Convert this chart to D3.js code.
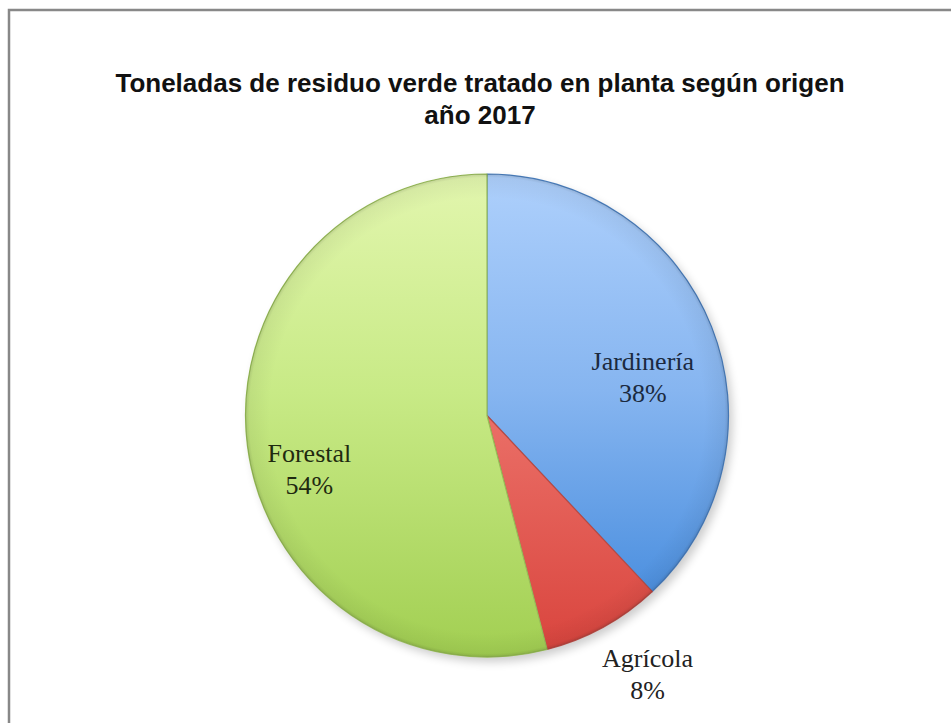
<!DOCTYPE html>
<html><head><meta charset="utf-8">
<script src="https://cdn.jsdelivr.net/npm/d3@7"></script>
<style>html,body{margin:0;padding:0;background:#fff;}svg{display:block;}</style>
</head><body>
<script>
const titleLines = ["Toneladas de residuo verde tratado en planta según origen", "año 2017"];
const categories = ["Jardinería", "Agrícola", "Forestal"];
const values = [38, 8, 54];
const colorsTop = ["#aed0fc", "#f5968e", "#e2f6ae"];
const colorsMid = ["#86b5f0", "#ec736b", "#c8ea86"];
const colorsBottom = ["#3a84da", "#d9443d", "#a2cf52"];
const edgeColors = ["#4a7fbf", "#b84a44", "#98bd58"];
const textColors = ["#1b2a40", "#222", "#1f2a10"];
// label layout: angle shift (deg) and radius (px) relative to center
const labelLayout = [{da: 7, r: 161}, {da: -3.2, r: 303}, {da: -9, r: 185}];

const W = 951, H = 723;
const cx = 487, cy = 415.5, R = 241.5;

const svg = d3.select("body").append("svg").attr("width", W).attr("height", H);
const defs = svg.append("defs");

const f = defs.append("filter").attr("id","shadow").attr("x","-20%").attr("y","-20%").attr("width","140%").attr("height","140%");
f.append("feGaussianBlur").attr("stdDeviation", 5);

categories.forEach((c,i)=>{
  const g = defs.append("linearGradient").attr("id","g"+i)
    .attr("gradientUnits","userSpaceOnUse").attr("x1",0).attr("y1",-R).attr("x2",0).attr("y2",R);
  g.append("stop").attr("offset","0%").attr("stop-color",colorsTop[i]);
  g.append("stop").attr("offset","45%").attr("stop-color",colorsMid[i]);
  g.append("stop").attr("offset","100%").attr("stop-color",colorsBottom[i]);
});
const rg = defs.append("radialGradient").attr("id","bevel").attr("gradientUnits","userSpaceOnUse")
  .attr("cx",0).attr("cy",0).attr("r",R);
rg.append("stop").attr("offset","0.9").attr("stop-color","#000").attr("stop-opacity",0);
rg.append("stop").attr("offset","0.985").attr("stop-color","#000").attr("stop-opacity",0.05);
rg.append("stop").attr("offset","1").attr("stop-color","#000").attr("stop-opacity",0.15);

// frame
svg.append("rect").attr("x",9).attr("y",10).attr("width",W).attr("height",H)
  .attr("fill","none").attr("stroke","#888").attr("stroke-width",2.5);

// title
svg.append("g").selectAll("text").data(titleLines).join("text")
  .attr("x",480).attr("y",(d,i)=>92+i*32)
  .attr("text-anchor","middle")
  .attr("font-family","'Liberation Sans', Arial, sans-serif")
  .attr("font-weight","bold").attr("font-size",26).attr("fill","#111")
  .text(d=>d);

const data = categories.map((c,i)=>({c, v: values[i], i}));
const pie = d3.pie().value(d=>d.v).sort(null);
const arcs = pie(data);
const arc = d3.arc().innerRadius(0).outerRadius(R);

const g = svg.append("g").attr("transform",`translate(${cx},${cy})`);
g.append("circle").attr("cx",4).attr("cy",5).attr("r",R).attr("fill","#000").attr("opacity",0.2).attr("filter","url(#shadow)");

g.selectAll("path.slice").data(arcs).join("path").attr("class","slice")
  .attr("d",arc)
  .attr("fill",d=>`url(#g${d.index})`)
  .attr("stroke",d=>edgeColors[d.index]).attr("stroke-width",1.2).attr("stroke-linejoin","round");

// bevel overlay
g.append("circle").attr("r",R).attr("fill","url(#bevel)");

// labels
const lab = g.selectAll("g.lab").data(arcs).join("g").attr("class","lab")
  .attr("transform",d=>{
    const L = labelLayout[d.index];
    const a = (d.startAngle+d.endAngle)/2 + L.da*Math.PI/180;
    return `translate(${L.r*Math.sin(a)},${-L.r*Math.cos(a)})`;
  });
lab.append("text").attr("y",-5).attr("text-anchor","middle")
  .attr("font-family","'Liberation Serif', 'DejaVu Serif', serif").attr("font-size",26)
  .attr("fill",d=>textColors[d.index]).text(d=>d.data.c);
lab.append("text").attr("y",27).attr("text-anchor","middle")
  .attr("font-family","'Liberation Serif', 'DejaVu Serif', serif").attr("font-size",26)
  .attr("fill",d=>textColors[d.index]).text(d=>d.data.v+"%");
</script>
</body></html>
